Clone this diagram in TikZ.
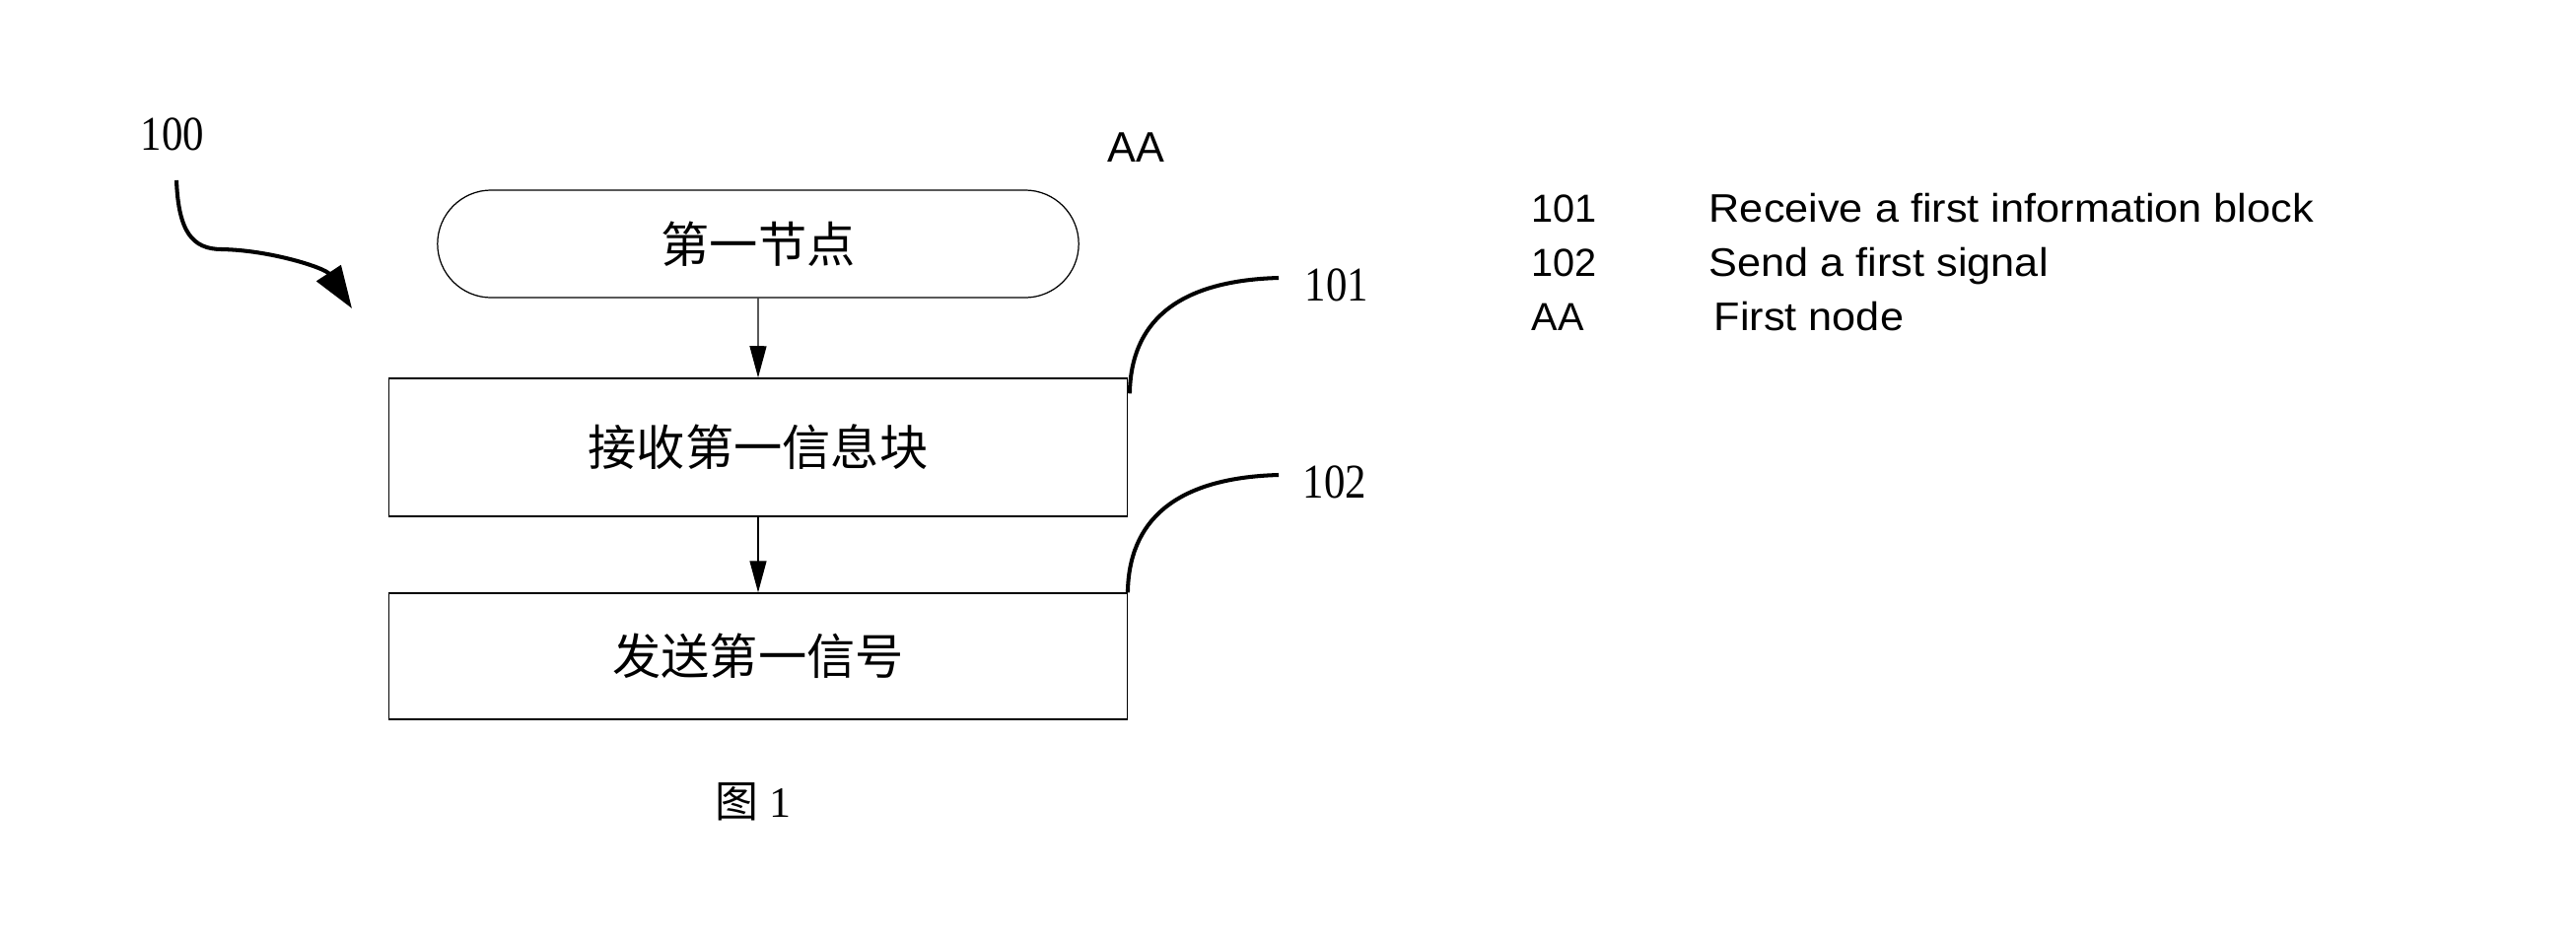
\documentclass[tikz,border=0pt]{standalone}
\usepackage{fontspec}
\usetikzlibrary{shapes.misc,arrows.meta}
\newfontfamily\cjk{Noto Sans CJK SC}
\newfontfamily\numserif[FakeStretch=0.87]{Liberation Serif}
\newfontfamily\plainserif{Liberation Serif}
\newfontfamily\lsans{Liberation Sans}
\newfontfamily\lsanswide[FakeStretch=1.07]{Liberation Sans}
\begin{document}
\begin{tikzpicture}[x=0.01cm,y=-0.01cm,
  box/.style={draw, line width=0.4pt, minimum width=7.48cm, inner sep=0pt},
  term/.style={draw, rounded rectangle, line width=0.35pt, minimum width=6.5cm, minimum height=1.09cm, inner sep=0pt},
  flow/.style={line width=0.35pt, -{Triangle[length=3.2mm,width=1.7mm]}},
  lead/.style={line width=1.15pt},
  cjktext/.style={font=\cjk\fontsize{14}{16}\selectfont},
  refnum/.style={font=\numserif\fontsize{14}{16}\selectfont, inner sep=0pt, anchor=base west},
  legcode/.style={font=\lsans\fontsize{11.3}{13}\selectfont, inner sep=0pt, anchor=base west},
  legtext/.style={font=\lsanswide\fontsize{11.5}{13}\selectfont, inner sep=0pt, anchor=base west},
]
\path[fill=white, use as bounding box] (0,0) rectangle (2613,954);

% flow nodes
\node[term, cjktext] (n0) at (769,247.5) {第一节点};
\node[box, minimum height=1.40cm, cjktext] (n1) at (769,454) {接收第一信息块};
\node[box, minimum height=1.28cm, cjktext] (n2) at (769,666) {发送第一信号};
\draw[flow] (n0) -- (n1);
\draw[flow] (n1) -- (n2);

% reference labels
\node[refnum] (l100) at (142,152) {100};
\node[refnum] (l101) at (1323,305) {101};
\node[refnum] (l102) at (1321,505) {102};
\node[font=\lsans\fontsize{12.3}{14}\selectfont, inner sep=0pt, anchor=base west] (aa) at (1123,164) {AA};

% lead lines
\coordinate (e101) at (1297,282);
\coordinate (e102) at (1297,482);
\draw[lead] ([xshift=0.02cm,yshift=-0.16cm]n1.north east) .. controls (1147,330) and (1190,285) .. (e101);
\draw[lead] (n2.north east) .. controls (1145,530) and (1190,485) .. (e102);

% arrow 100
\coordinate (a100s) at (179,183);
\coordinate (a100m) at (225,253);
\coordinate (a100e) at (357,313);
\draw[lead, -{Triangle[length=4.3mm,width=2.9mm]}] (a100s) .. controls (181,235) and (195,253) .. (a100m) .. controls (275,254) and (330,272) .. (a100e);

% caption
\node[font=\plainserif\fontsize{12.5}{15}\selectfont, inner sep=0pt] (fig) at (764,814) {{\cjk 图} 1};

% legend
\node[legcode] (c1) at (1553,225) {101};
\node[legtext] (d1) at (1733,225) {Receive a first information block};
\node[legcode] (c2) at (1553,280) {102};
\node[legtext] (d2) at (1733,280) {Send a first signal};
\node[legcode] (c3) at (1553,335) {AA};
\node[legtext] (d3) at (1738,335) {First node};
\end{tikzpicture}
\end{document}
